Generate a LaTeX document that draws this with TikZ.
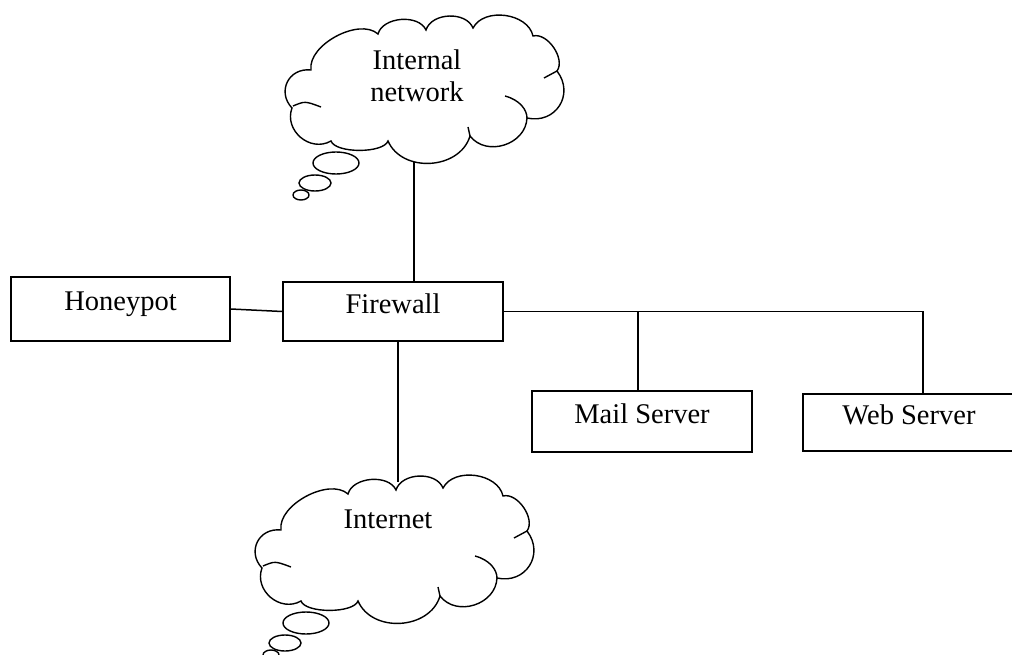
\documentclass[tikz,border=0pt]{standalone}
\usepackage{fontspec}
\setmainfont{Liberation Serif}

% thought cloud, drawn in the coordinates of the upper cloud and shifted by #1
\newcommand{\thoughtcloud}[1]{%
\begin{scope}[shift={#1}]
\draw[cloudline] (331,141) to[puff=1.2] (292,108) to[puff=1.35] (311,70) to[puff=0.85] (378,34)
  to[puff=0.95] (426,30) to[puff=1.0] (473,28) to[puff=1.0] (533,36) to[puff=0.9] (557,71)
  to[puff=1.35] (527,118) to[puff=1.15] (470,136) to[puff=1.1] (388,141) to[puff=0.6] cycle;
\draw[cloudline] (293,106) .. controls (305,101) .. (321,107);
\draw[cloudline] (557,71) -- (544,78);
\draw[cloudline] (505,96) .. controls (520,100) and (527,110) .. (527,118);
\draw[cloudline] (470,136) -- (468,127);
\draw[cloudline] (336,163) ellipse (23pt and 11pt);
\draw[cloudline] (315,183) ellipse (16pt and 8pt);
\draw[cloudline] (301,195) ellipse (8pt and 5pt);
\end{scope}}

\begin{document}
\begin{tikzpicture}[x=1pt, y=-1pt, line width=1.5pt, font=\fontsize{28.5}{32}\selectfont,
  device/.style={draw, rectangle, line width=1.7pt, inner sep=0pt, text depth=16pt},
  cloudline/.style={line width=1.4pt},
  puff/.style={bend left=70, looseness=#1}]
\useasboundingbox (0,0) rectangle (1012,655);
% clouds
\thoughtcloud{(0,0)}
\thoughtcloud{(-30,460)}
\node[align=center] (lantxt) at (417,76) {Internal\\network};
\node (wantxt) at (388,519) {Internet};
\coordinate (lanfoot) at (414,162);
\coordinate (wantop) at (398,482);
% boxes
\node[device, minimum width=219pt, minimum height=64pt] (hp) at (120.5,309) {Honeypot};
\node[device, minimum width=220pt, minimum height=59pt] (fw) at (393,311.5) {Firewall};
\node[device, minimum width=220pt, minimum height=61pt] (mail) at (642,421.5) {Mail Server};
\node[device, minimum width=212pt, minimum height=57pt] (web) at (909,422.5) {Web Server};
% links
\draw (hp.east) -- (fw.west);
\draw (lanfoot) -- (lanfoot |- fw.north);
\draw (wantop |- fw.south) -- (wantop);
\draw (fw.east) -| ([xshift=14pt]web.north);
\draw ([xshift=-4pt]mail.north |- fw.east) -- ([xshift=-4pt]mail.north);
\end{tikzpicture}
\end{document}
